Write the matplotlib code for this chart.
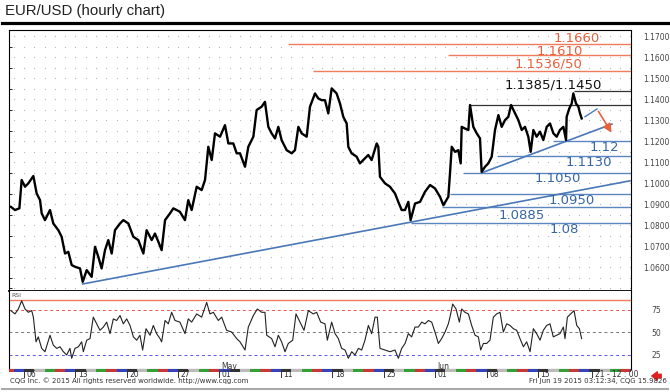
import matplotlib.pyplot as plt
import numpy as np
from matplotlib.lines import Line2D
from matplotlib.patches import FancyArrowPatch

# x = trading-day index (0 = Mon 06 Apr 2015, 5 trading days a week)
price_day = [-1.27, -0.88, -0.45, -0.23, 0.10, 0.42, 0.91, 1.23, 1.56, 1.72, 2.04, 2.53, 2.85, 3.34,
             3.66, 3.99, 4.31, 4.64, 4.96, 5.45, 5.71, 6.10, 6.58, 6.91, 7.23, 7.55, 7.88, 8.20,
             8.53, 8.85, 9.34, 9.66, 10.15, 10.63, 11.12, 11.61, 11.93, 12.42, 12.74, 13.07, 13.39,
             13.72, 14.20, 14.53, 15.16, 15.66, 15.98, 16.31, 16.80, 17.28, 17.61, 17.93, 18.26,
             18.58, 19.07, 19.55, 19.88, 20.36, 20.69, 21.01, 21.50, 21.82, 22.31, 22.63, 23.12,
             23.44, 23.77, 24.09, 24.42, 24.74, 25.06, 25.55, 26.04, 26.36, 26.69, 27.01, 27.50,
             27.82, 28.31, 28.63, 28.96, 29.28, 29.60, 29.93, 30.41, 30.74, 31.06, 31.39, 31.55,
             31.87, 32.36, 32.68, 33.01, 33.49, 33.82, 34.31, 34.47, 34.63, 35.12, 35.60, 36.09,
             36.41, 36.74, 37.06, 37.39, 37.61, 38.04, 38.53, 39.01, 39.50, 39.98, 40.47, 40.80,
             41.28, 41.44, 41.61, 41.93, 42.25, 42.48, 42.58, 42.90, 43.23, 43.39, 43.71, 44.04,
             44.36, 44.52, 44.85, 45.17, 45.50, 45.82, 46.15, 46.47, 46.79, 47.12, 47.38, 47.77,
             48.09, 48.42, 48.74, 49.06, 49.29, 49.55, 49.87, 50.20, 50.52, 50.85, 51.17, 51.50,
             51.82, 52.14, 52.47, 52.73, 52.79, 53.05, 53.28, 53.44, 53.70, 53.93, 54.09, 54.25]
price = [1.0887, 1.0872, 1.0880, 1.1015, 1.0983, 1.0999, 1.1034, 1.0951, 1.0919, 1.0856, 1.0824,
         1.0872, 1.0808, 1.0776, 1.0745, 1.0665, 1.0673, 1.0610, 1.0602, 1.0594, 1.0530, 1.0586,
         1.0554, 1.0697, 1.0649, 1.0594, 1.0681, 1.0729, 1.0665, 1.0776, 1.0808, 1.0824, 1.0808,
         1.0745, 1.0729, 1.0665, 1.0776, 1.0729, 1.0760, 1.0721, 1.0681, 1.0824, 1.0856, 1.0880,
         1.0864, 1.0824, 1.0919, 1.0872, 1.0983, 1.0967, 1.1015, 1.1173, 1.1110, 1.1237, 1.1221,
         1.1276, 1.1189, 1.1189, 1.1142, 1.1142, 1.1078, 1.1173, 1.1221, 1.1348, 1.1364, 1.1387,
         1.1268, 1.1237, 1.1213, 1.1268, 1.1205, 1.1157, 1.1142, 1.1157, 1.1268, 1.1237, 1.1221,
         1.1364, 1.1427, 1.1403, 1.1395, 1.1395, 1.1332, 1.1451, 1.1427, 1.1379, 1.1316, 1.1284,
         1.1173, 1.1142, 1.1126, 1.1094, 1.1110, 1.1134, 1.1110, 1.1189, 1.1173, 1.1030, 1.0999,
         1.0983, 1.0951, 1.0911, 1.0872, 1.0872, 1.0911, 1.0824, 1.0903, 1.0911, 1.0959, 1.0991,
         1.0975, 1.0935, 1.0895, 1.0935, 1.1046, 1.1173, 1.1149, 1.1157, 1.1094, 1.1268, 1.1260,
         1.1253, 1.1372, 1.1268, 1.1237, 1.1213, 1.1054, 1.1078, 1.1094, 1.1126, 1.1253, 1.1324,
         1.1268, 1.1300, 1.1316, 1.1372, 1.1332, 1.1300, 1.1253, 1.1268, 1.1221, 1.1149, 1.1253,
         1.1221, 1.1245, 1.1205, 1.1268, 1.1284, 1.1237, 1.1221, 1.1253, 1.1268, 1.1205, 1.1316,
         1.1356, 1.1379, 1.1427, 1.1379, 1.1364, 1.1332, 1.1308]

rsi_day = [-1.27, -0.88, -0.55, -0.23, 0.10, 0.42, 0.75, 0.91, 1.17, 1.39, 1.72, 2.04, 2.53, 2.85,
           3.18, 3.50, 3.83, 4.15, 4.47, 4.64, 4.96, 5.29, 5.61, 5.77, 6.10, 6.42, 6.74, 7.07,
           7.39, 7.72, 8.04, 8.37, 8.69, 9.01, 9.34, 9.66, 9.99, 10.31, 10.64, 10.96, 11.28,
           11.54, 11.87, 12.26, 12.58, 12.90, 13.23, 13.39, 13.72, 14.04, 14.36, 14.69, 15.17,
           15.66, 15.98, 16.31, 16.80, 17.28, 17.77, 18.09, 18.42, 18.90, 19.23, 19.71, 20.20,
           20.69, 21.01, 21.50, 21.82, 22.31, 22.70, 23.12, 23.44, 23.61, 24.09, 24.42, 24.74,
           25.06, 25.39, 25.71, 26.14, 26.46, 26.85, 27.24, 27.66, 28.14, 28.47, 28.86, 29.28,
           29.51, 29.93, 30.26, 30.58, 30.90, 31.23, 31.55, 31.88, 32.20, 32.53, 32.85, 33.17,
           33.50, 33.82, 34.15, 34.37, 34.63, 35.12, 35.61, 36.09, 36.42, 36.74, 37.07, 37.39,
           37.71, 38.04, 38.36, 38.69, 39.01, 39.34, 39.66, 39.98, 40.31, 40.63, 40.96, 41.28,
           41.44, 41.70, 42.03, 42.35, 42.58, 42.90, 43.23, 43.55, 43.88, 44.20, 44.43, 44.69,
           45.01, 45.33, 45.66, 45.98, 46.31, 46.63, 46.96, 47.28, 47.60, 47.93, 48.25, 48.58,
           48.90, 49.23, 49.55, 49.87, 50.20, 50.52, 50.85, 51.17, 51.49, 51.82, 52.14, 52.47,
           52.63, 52.86, 53.18, 53.51, 53.77, 54.03, 54.25]
rsi = [74.2, 70.6, 76.1, 85.2, 76.1, 72.4, 74.3, 67.0, 39.6, 45.1, 32.3, 28.6, 46.9, 35.9, 32.3,
       34.1, 28.6, 25.0, 32.3, 21.3, 32.3, 34.1, 39.6, 28.6, 41.4, 43.2, 67.0, 59.6, 52.4, 56.0,
       61.5, 48.7, 65.1, 63.3, 68.8, 59.6, 65.1, 57.8, 45.1, 41.4, 46.9, 30.5, 54.2, 46.9, 57.8,
       48.7, 43.2, 39.6, 63.3, 59.6, 72.4, 63.3, 61.5, 48.7, 65.1, 61.5, 70.6, 67.0, 83.4, 70.6,
       72.4, 63.3, 67.0, 52.4, 50.5, 43.2, 39.6, 30.5, 56.0, 68.8, 76.1, 72.4, 72.4, 46.9, 43.2,
       34.1, 46.9, 39.6, 28.6, 37.8, 41.4, 70.6, 61.5, 52.4, 74.3, 70.6, 72.4, 61.5, 59.6, 41.4,
       61.5, 48.7, 43.2, 32.3, 30.5, 21.3, 28.6, 25.0, 32.3, 30.5, 41.4, 57.8, 48.7, 67.0, 67.0,
       32.3, 30.5, 28.6, 30.5, 21.3, 32.3, 37.8, 48.7, 45.1, 56.0, 56.0, 61.5, 59.6, 63.3, 61.5,
       50.5, 37.8, 43.2, 50.5, 59.6, 67.0, 81.6, 76.1, 61.5, 76.1, 72.4, 70.6, 57.8, 46.9, 45.1,
       30.5, 37.8, 37.8, 41.4, 67.0, 70.6, 72.4, 50.5, 59.6, 57.8, 54.2, 52.4, 43.2, 34.1, 39.6,
       28.6, 54.2, 48.7, 41.4, 52.4, 57.8, 59.6, 45.1, 46.9, 48.7, 56.0, 43.2, 67.0, 70.6, 74.3,
       57.8, 54.2, 43.2]

# support / resistance levels and where they start
red_levels = [1.1660, 1.1610, 1.1535]
red_start = [25.7, 41.25, 28.1]
black_levels = [1.1437, 1.1373]
black_start = [53.5, 43.4]
blue_levels = [1.1200, 1.1130, 1.1050, 1.0950, 1.0885, 1.0812]
blue_start = [51.46, 46.0, 42.7, 41.44, 40.66, 37.65]

label_text = ["1.1660", "1.1610", "1.1536/50", "1.1385/1.1450",
              "1.12", "1.1130", "1.1050", "1.0950", "1.0885", "1.08"]
label_day = [53.8, 52.1, 51.0, 51.5, 56.5, 54.9, 51.95, 53.3, 48.45, 52.55]
label_price = [1.1688, 1.1628, 1.1565, 1.1467, 1.1172, 1.1100, 1.1024, 1.0915, 1.0848, 1.0781]
label_color = ["#e8603c"] * 3 + ["#111111"] + ["#3566a5"] * 6

trend_day = [[5.71, 58.95], [44.52, 57.2]]
trend_price = [[1.0520, 1.1011], [1.1049, 1.1281]]
proj_day = [54.57, 55.74, 57.3]
proj_price = [1.1316, 1.1353, 1.1229]

date_day = [0, 5, 10, 15, 19, 25, 30, 35, 40, 45, 50, 55.25]
date_text = ["06", "13", "20", "27", "01", "11", "18", "25", "01", "08", "15", "21 - 12 : 00"]
month_day = [19, 40]
month_text = ["May", "Jun"]
day_colors = ["#333333", "#bbbbbb", "#33a033", "#c83737", "#3344bb"]  # Mon..Fri

W, H = 670, 392
def box(l, t, r, b):
    return [l / W, 1 - b / H, (r - l) / W, (b - t) / H]

fig = plt.figure(figsize=(6.7, 3.92), dpi=100)
xlim = (-1.46, 59.05)

ax = fig.add_axes(box(9, 30, 631, 290.7))
ax.set_xlim(xlim)
ax.set_ylim(1.0488, 1.1729)

gx, gy = np.meshgrid(np.arange(-1, 60), np.arange(1.05, 1.171, 0.005))
ax.plot(gx.ravel(), gy.ravel(), 'o', color='#b8b8b8', ms=0.9, mew=0, zorder=0)

ax.plot(price_day, price, color='black', lw=1.7, zorder=3)

for lv, st in zip(red_levels, red_start):
    ax.hlines(lv, st, xlim[1], color='#f07c5c', lw=1.0)
for lv, st in zip(black_levels, black_start):
    ax.hlines(lv, st, xlim[1], color='#333333', lw=0.9)
for lv, st in zip(blue_levels, blue_start):
    ax.hlines(lv, st, xlim[1], color='#5b86c0', lw=1.0)
for d, p in zip(trend_day, trend_price):
    ax.plot(d, p, color='#4a78b8', lw=1.2)
ax.plot(proj_day[:2], proj_price[:2], color='#4a78b8', lw=1.0)
ax.annotate('', xy=(proj_day[2], proj_price[2]), xytext=(proj_day[1], proj_price[1]),
            arrowprops=dict(arrowstyle='-|>,head_length=0.5,head_width=0.25', color='#e8603c', lw=1.2))

for t, d, p, c in zip(label_text, label_day, label_price, label_color):
    ax.text(d, p, t, color=c, fontsize=9.5, ha='center', va='center')

ax.yaxis.tick_right()
ax.set_yticks(np.arange(1.06, 1.171, 0.01))
ax.set_yticklabels(['%.4f' % v for v in np.arange(1.06, 1.171, 0.01)], fontsize=5.5, color='#444444')
ax.tick_params(axis='y', right=False, pad=5)
ax.set_yticks(np.arange(1.05, 1.171, 0.005), minor=True)
ax.tick_params(axis='y', which='minor', left=True, right=False, direction='in', length=2, width=0.6)
ax.set_xticks([])
for s in ax.spines.values():
    s.set_linewidth(0.8)
ax.spines['bottom'].set_linewidth(1.3)

ax_rsi = fig.add_axes(box(9, 290.7, 631, 369))
ax_rsi.set_xlim(xlim)
ax_rsi.set_ylim(9.4, 96.4)
ax_rsi.axhline(86, color='#f07c5c', lw=1.0)
ax_rsi.axhline(75, color='#f05050', lw=0.7, ls=(0, (3, 3)))
ax_rsi.axhline(50, color='#777777', lw=0.7, ls=(0, (3, 3)))
ax_rsi.axhline(25, color='#5555ee', lw=0.7, ls=(0, (3, 3)))
ax_rsi.plot(rsi_day, rsi, color='#222222', lw=0.8)
ax_rsi.yaxis.tick_right()
ax_rsi.set_yticks([25, 50, 75])
ax_rsi.set_yticklabels(['25', '50', '75'], fontsize=5.5, color='#444444')
ax_rsi.tick_params(axis='y', right=False, pad=11)
ax_rsi.set_xticks([])
ax_rsi.spines['top'].set_visible(False)
for s in ['left', 'right', 'bottom']:
    ax_rsi.spines[s].set_linewidth(0.8)
ax_rsi.text(0.004, 0.97, 'RSI', transform=ax_rsi.transAxes, fontsize=4.5, color='#555555', va='top')
for d, m in zip(month_day, month_text):
    ax_rsi.text(d + 0.2, 12.5, m, fontsize=5.5, color='#333333', va='center')

ax_strip = fig.add_axes(box(9, 369, 631, 378))
ax_strip.set_xlim(xlim)
ax_strip.set_ylim(9, 0)
days = np.arange(-2, 60)
ax_strip.bar(days + 0.5, 2.5, width=1.0, bottom=0,
             color=[day_colors[k % 5] for k in days])
ax_strip.vlines(date_day, 0.5, 9, color='#333333', lw=0.7)
for d, t in zip(date_day, date_text):
    ax_strip.text(d + 0.25, 5.6, t, fontsize=5.5, color='#333333', va='center')
ax_strip.axis('off')

fig.add_artist(Line2D([2 / W, 1], [1 - 22.5 / H] * 2, color='black', lw=2.3))
fig.add_artist(Line2D([2 / W, 668 / W], [1 - 389 / H] * 2, color='#aaaaaa', lw=1.5))
fig.text(5 / W, 1 - 11 / H, 'EUR/USD (hourly chart)', fontsize=10.8, family='Liberation Sans',
         va='center', color='#222222')
fig.text(10 / W, 1 - 381 / H, 'CQG Inc. \u00a9 2015 All rights reserved worldwide. http://www.cqg.com',
         fontsize=5, color='#333333', va='center')
fig.text(667 / W, 1 - 381 / H, 'Fri Jun 19 2015 03:12:34, CQG 15.9826',
         fontsize=5, color='#333333', va='center', ha='right')
fig.add_artist(FancyArrowPatch((664 / W, 1 - 376 / H), (649 / W, 1 - 376 / H), transform=fig.transFigure,
                               arrowstyle='simple,head_length=4,head_width=6,tail_width=2.5', color='#e02020'))

fig.savefig('out.png', dpi=100)
